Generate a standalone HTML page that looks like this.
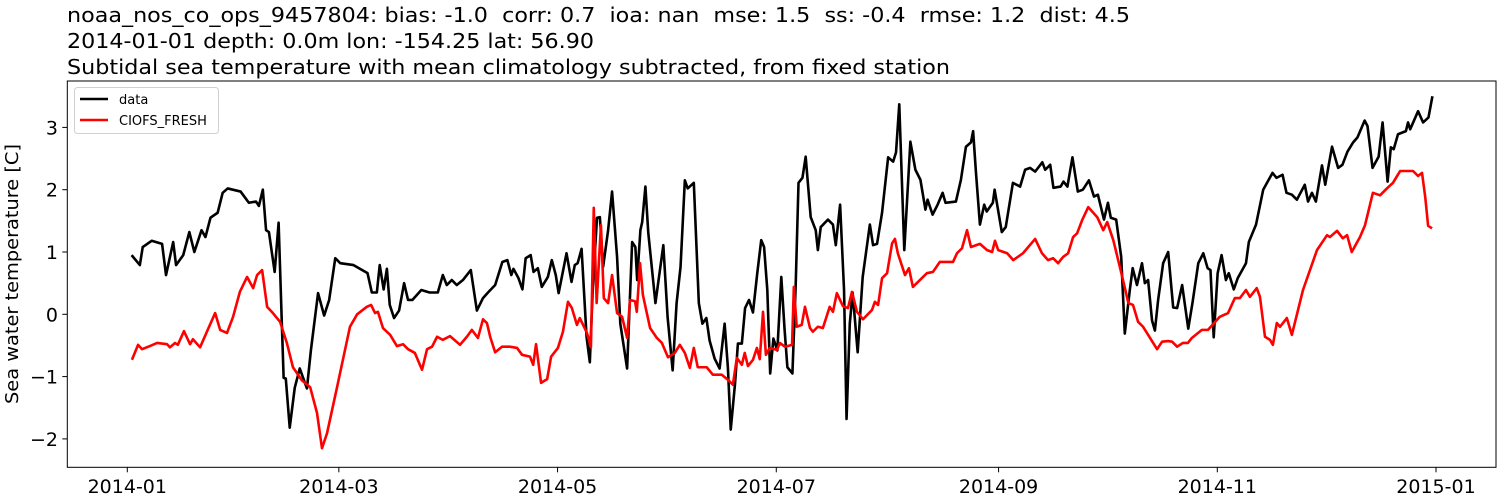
<!DOCTYPE html>
<html><head><meta charset="utf-8">
<style>
html,body{margin:0;padding:0;background:#fff;}
svg{display:block;font-family:"DejaVu Sans","Liberation Sans",sans-serif;}
.pre{white-space:pre;}
</style></head>
<body>
<svg id="chart" width="1500" height="500" viewBox="0 0 1500 500" xmlns="http://www.w3.org/2000/svg">
  <rect x="0" y="0" width="1500" height="500" fill="#fff"/>
  <g font-size="20" fill="#000">
    <text class="pre" xml:space="preserve" x="67" y="22" textLength="1063" lengthAdjust="spacingAndGlyphs">noaa_nos_co_ops_9457804: bias: -1.0  corr: 0.7  ioa: nan  mse: 1.5  ss: -0.4  rmse: 1.2  dist: 4.5</text>
    <text x="67" y="48" textLength="527" lengthAdjust="spacingAndGlyphs">2014-01-01 depth: 0.0m lon: -154.25 lat: 56.90</text>
    <text x="67" y="74" textLength="883" lengthAdjust="spacingAndGlyphs">Subtidal sea temperature with mean climatology subtracted, from fixed station</text>
  </g>
  <text transform="translate(18,274) rotate(-90)" text-anchor="middle" font-size="18" textLength="260" lengthAdjust="spacingAndGlyphs">Sea water temperature [C]</text>
  <g id="ticks"></g>
  <clipPath id="clip"><rect x="67.3" y="81" width="1428.7" height="386.3"/></clipPath>
  <g id="series" clip-path="url(#clip)"></g>
  <rect x="67.3" y="81" width="1428.7" height="386.3" fill="none" stroke="#000" stroke-width="1"/>
  <g>
    <rect x="74.5" y="87.5" width="144" height="46" rx="3" fill="#fff" stroke="#d0d0d0" stroke-width="1"/>
    <line x1="80" y1="99" x2="108" y2="99" stroke="#000" stroke-width="2.5"/>
    <text x="119" y="104" font-size="13">data</text>
    <line x1="80" y1="120" x2="108" y2="120" stroke="#f00" stroke-width="2.5"/>
    <text x="119" y="125" font-size="13">CIOFS_FRESH</text>
  </g>
</svg>
<script>
const xTickDays = [0, 59, 120, 181, 243, 304, 365];
const xTickLabels = ["2014-01","2014-03","2014-05","2014-07","2014-09","2014-11","2015-01"];
const yTickValues = [-2, -1, 0, 1, 2, 3];
const yTickLabels = ["\u22122","\u22121","0","1","2","3"];
const dataDays = [1.2,3.5,4.3,6.8,9.7,10.8,12.8,13.6,15.6,17.3,18.7,20.7,21.8,23.2,25.2,26.6,28.0,31.6,33.9,35.9,36.7,37.8,38.7,39.5,41.1,42.2,43.1,43.6,44.2,45.3,46.7,48.1,50.1,51.2,53.2,54.9,56.3,58.0,59.4,63.1,67.0,68.2,69.6,70.4,71.5,72.4,73.2,74.4,75.8,77.2,78.3,79.5,82.0,84.3,86.6,88.0,89.1,90.5,91.9,93.6,95.8,97.5,99.2,100.6,102.6,104.6,106.0,107.1,107.7,109.1,110.2,111.1,112.5,113.3,114.5,115.6,117.3,118.4,119.5,120.3,122.5,123.9,124.8,125.6,126.7,128.1,129.0,129.8,131.0,131.8,132.7,134.1,135.2,136.6,137.5,139.4,140.8,141.7,142.2,143.1,143.6,144.5,145.3,147.3,149.5,150.7,152.1,153.2,154.3,155.5,156.3,158.0,159.4,160.4,161.5,162.4,163.8,165.2,166.6,167.5,168.3,169.5,170.3,171.4,172.3,173.4,174.5,175.7,176.8,177.6,178.5,179.3,180.2,181.3,182.4,183.3,184.1,185.5,186.4,187.2,188.3,189.2,190.6,192.0,192.6,193.4,195.4,196.8,197.6,198.8,199.9,200.6,201.5,202.3,203.7,205.1,207.1,208.0,209.1,210.5,212.2,213.6,214.4,215.3,216.7,218.4,219.8,221.2,222.6,223.2,224.6,226.0,227.4,228.2,231.1,232.5,233.9,235.3,235.9,236.7,237.8,239.0,239.7,241.4,241.9,243.9,245.0,247.0,249.0,250.4,251.8,253.2,255.2,256.0,257.4,258.3,260.3,261.1,262.2,263.6,265.1,266.5,268.2,269.6,270.7,272.4,273.5,274.3,275.8,277.2,278.2,279.6,280.4,281.6,283.0,283.8,284.7,285.8,286.6,287.5,288.9,290.3,291.7,292.8,294.2,295.9,297.1,298.7,300.1,301.3,302.1,303.0,304.1,305.2,306.4,307.2,308.6,309.7,312.0,312.8,314.8,316.8,319.4,320.5,322.2,323.3,324.8,326.2,328.4,329.3,330.4,331.5,333.2,334.1,336.0,337.7,338.9,340.3,341.9,343.1,345.1,345.9,347.3,349.0,350.1,351.5,352.4,353.2,354.4,356.6,357.2,357.8,360.0,361.4,362.9,364.0];
const dataValues = [.95,.79,1.08,1.18,1.13,.63,1.16,.79,.95,1.32,1.0,1.35,1.24,1.55,1.63,1.95,2.02,1.97,1.79,1.81,1.74,2.0,1.35,1.32,.68,1.47,-.15,-1.02,-1.03,-1.82,-1.18,-.87,-1.19,-.58,.34,-.02,.23,.9,.82,.79,.66,.35,.35,.79,.4,.73,.15,-.06,.06,.5,.23,.23,.39,.35,.35,.63,.47,.55,.47,.55,.71,.06,.26,.35,.47,.84,.87,.63,.73,.58,.4,.9,.95,.68,.74,.44,.6,.87,.63,.34,.98,.52,.79,.82,1.05,-.37,-.77,.39,1.55,1.56,.76,1.35,1.97,.92,-.15,-.87,1.16,1.08,.55,1.35,1.48,2.05,1.31,.18,1.11,-.05,-.9,.18,.76,2.15,2.02,2.11,.18,-.15,-.06,-.42,-.71,-.87,-.15,-.85,-1.85,-1.11,-.47,-.47,.1,.23,.03,.66,1.19,1.08,.39,-.95,-.39,-.58,.6,-.23,-.85,-.95,.44,2.11,2.19,2.53,1.56,1.35,1.03,1.4,1.52,1.44,1.11,1.76,.39,-1.68,-.15,.35,-.61,.6,1.44,1.11,1.13,1.63,2.52,2.45,2.6,3.37,1.03,2.77,2.32,2.16,1.68,1.84,1.6,1.76,1.95,1.79,1.81,2.16,2.69,2.76,2.94,2.27,1.44,1.76,1.65,1.79,2.0,1.32,1.4,2.11,2.05,2.32,2.35,2.29,2.44,2.32,2.4,2.03,2.05,2.13,2.05,2.52,1.97,2.0,2.15,1.89,1.92,1.52,1.79,1.55,1.52,.92,-.31,.39,.74,.47,.82,.5,.55,-.1,-.26,.23,.82,1.0,.11,.1,.47,-.23,.19,.82,.98,.74,.71,-.37,.66,.95,.55,.66,.4,.58,.82,1.16,1.44,2.0,2.27,2.19,2.24,1.95,1.92,1.84,2.08,1.81,1.95,1.81,2.39,2.08,2.69,2.35,2.4,2.61,2.76,2.84,3.11,3.02,2.35,2.53,3.08,2.13,2.68,2.65,2.89,2.94,3.08,2.97,3.26,3.08,3.16,3.5];
const modelDays = [1.3,3.0,4.1,6.3,8.3,11.1,11.9,13.3,14.1,15.8,17.5,18.3,20.3,22.5,24.5,25.9,27.8,29.5,31.4,33.4,35.1,36.2,37.6,39.0,40.6,42.6,44.5,46.2,48.7,51.0,52.9,54.3,55.7,58.5,62.1,64.1,66.8,68.0,69.1,69.9,71.3,73.3,75.2,76.9,78.3,80.2,82.2,83.6,85.0,86.4,88.0,90.0,92.8,94.7,96.1,97.8,99.2,100.3,101.2,102.6,104.5,106.7,108.7,110.1,112.3,113.2,114.0,115.4,117.1,118.2,120.1,121.5,122.9,124.0,125.4,126.2,128.2,129.3,130.1,130.9,132.1,132.9,134.1,135.2,136.6,138.0,139.4,140.2,141.6,142.1,143.0,143.8,145.8,147.7,149.1,150.8,152.7,154.1,155.5,156.9,158.0,159.1,161.6,163.3,165.8,167.5,168.9,170.0,171.4,172.2,173.1,174.5,175.6,176.4,177.3,178.1,179.2,181.2,182.0,183.4,185.4,185.9,186.7,188.1,189.0,190.4,191.2,192.6,194.0,195.9,196.8,197.9,199.6,201.0,202.1,203.5,205.2,207.7,208.5,209.4,210.5,211.9,213.3,214.1,214.9,216.9,218.0,219.1,223.0,224.7,226.6,230.3,231.4,232.8,234.2,235.3,237.8,239.8,241.2,242.0,242.9,245.4,247.1,249.8,253.2,255.1,256.8,258.2,259.6,261.0,262.4,263.8,264.9,266.3,268.0,270.5,272.2,273.3,275.0,277.5,279.2,280.5,281.9,283.3,284.7,287.2,288.6,290.3,291.4,292.8,294.4,295.8,296.9,299.7,301.4,304.7,307.0,308.9,310.3,312.0,313.1,315.0,315.9,317.3,318.7,319.5,320.6,321.5,323.4,324.8,327.9,331.8,334.6,335.4,337.4,339.0,340.2,341.5,343.8,345.2,347.4,349.4,351.3,353.0,355.0,358.6,360.0,361.1,362.0,362.8,363.9];
const modelValues = [-.73,-.49,-.56,-.51,-.46,-.48,-.53,-.46,-.49,-.27,-.48,-.40,-.53,-.24,.02,-.25,-.30,-.04,.36,.60,.42,.63,.71,.12,.02,-.12,-.46,-.85,-1.06,-1.17,-1.58,-2.15,-1.91,-1.17,-.20,0,.12,.15,.02,.04,-.22,-.33,-.51,-.48,-.56,-.62,-.89,-.56,-.52,-.36,-.41,-.35,-.49,-.36,-.25,-.38,-.08,-.14,-.36,-.61,-.52,-.52,-.54,-.65,-.68,-.81,-.48,-1.10,-1.04,-.68,-.54,-.28,.20,.10,-.17,-.06,-.30,-.53,1.71,.18,1.43,.26,.18,.63,.02,-.04,-.38,.23,.21,.04,.82,.31,-.22,-.38,-.46,-.69,-.62,-.49,-.62,-.86,-.54,-.85,-.85,-.97,-.97,-1.05,-1.13,-.70,-.81,-.62,-.83,-.73,-.54,-.72,.04,-.65,-.54,-.57,-.46,-.52,-.49,.44,-.20,-.17,.12,-.22,-.28,-.20,-.22,.12,.04,.34,.13,.10,.36,.04,-.08,.07,.20,.15,.58,.66,1.14,1.21,.98,.63,.74,.44,.66,.68,.84,.84,.98,1.06,1.35,1.08,1.13,1.03,1.00,1.18,1.03,.98,.87,.98,1.21,.98,.87,.90,.82,.92,.98,1.24,1.30,1.51,1.72,1.56,1.35,1.48,1.19,.60,.18,.15,-.12,-.20,-.33,-.56,-.44,-.43,-.44,-.52,-.46,-.46,-.38,-.25,-.25,-.04,.02,.26,.26,.39,.28,.42,.28,-.36,-.41,-.49,-.14,-.20,-.06,-.33,.39,1.03,1.27,1.24,1.34,1.22,1.27,1.00,1.24,1.43,1.95,1.91,2.02,2.11,2.30,2.30,2.22,2.27,1.88,1.42,1.38];

const X0 = 127.3, XPD = 3.5855;
const Y0 = 314.3, YPU = 62.3;
function xScale(d){ return X0 + d * XPD; }
function yScale(v){ return Y0 - v * YPU; }
const NS = "http://www.w3.org/2000/svg";
const ticks = document.getElementById('ticks');
xTickDays.forEach(function(d, i){
  const x = xScale(d);
  const t = document.createElementNS(NS, 'line');
  t.setAttribute('x1', x); t.setAttribute('x2', x);
  t.setAttribute('y1', 467.3); t.setAttribute('y2', 472.3);
  t.setAttribute('stroke', '#000');
  
  
  ticks.appendChild(t);
  const lb = document.createElementNS(NS, 'text');
  lb.setAttribute('x', x); lb.setAttribute('y', 493);
  lb.setAttribute('text-anchor', 'middle');
  lb.setAttribute('font-size', '19');
  lb.textContent = xTickLabels[i];
  
  
  ticks.appendChild(lb);
});
yTickValues.forEach(function(v, i){
  const y = yScale(v);
  const t = document.createElementNS(NS, 'line');
  t.setAttribute('x1', 62.3); t.setAttribute('x2', 67.3);
  t.setAttribute('y1', y); t.setAttribute('y2', y);
  t.setAttribute('stroke', '#000');
  
  
  ticks.appendChild(t);
  const lb = document.createElementNS(NS, 'text');
  lb.setAttribute('x', 58); lb.setAttribute('y', y + 7);
  lb.setAttribute('text-anchor', 'end');
  lb.setAttribute('font-size', '19');
  lb.textContent = yTickLabels[i];
  
  
  ticks.appendChild(lb);
});
function makePath(days, vals){
  let s = '';
  for (let i = 0; i < days.length; i++){
    s += (i ? 'L' : 'M') + xScale(days[i]).toFixed(2) + ',' + yScale(vals[i]).toFixed(2);
  }
  return s;
}
const series = document.getElementById('series');
const pData = document.createElementNS(NS, 'path');
pData.setAttribute('d', makePath(dataDays, dataValues));
pData.setAttribute('fill', 'none'); pData.setAttribute('stroke', '#000');
pData.setAttribute('stroke-width', '2.6'); pData.setAttribute('stroke-linejoin', 'round');


series.appendChild(pData);
const pModel = document.createElementNS(NS, 'path');
pModel.setAttribute('d', makePath(modelDays, modelValues));
pModel.setAttribute('fill', 'none'); pModel.setAttribute('stroke', '#f00');
pModel.setAttribute('stroke-width', '2.6'); pModel.setAttribute('stroke-linejoin', 'round');


series.appendChild(pModel);
</script>
</body></html>
